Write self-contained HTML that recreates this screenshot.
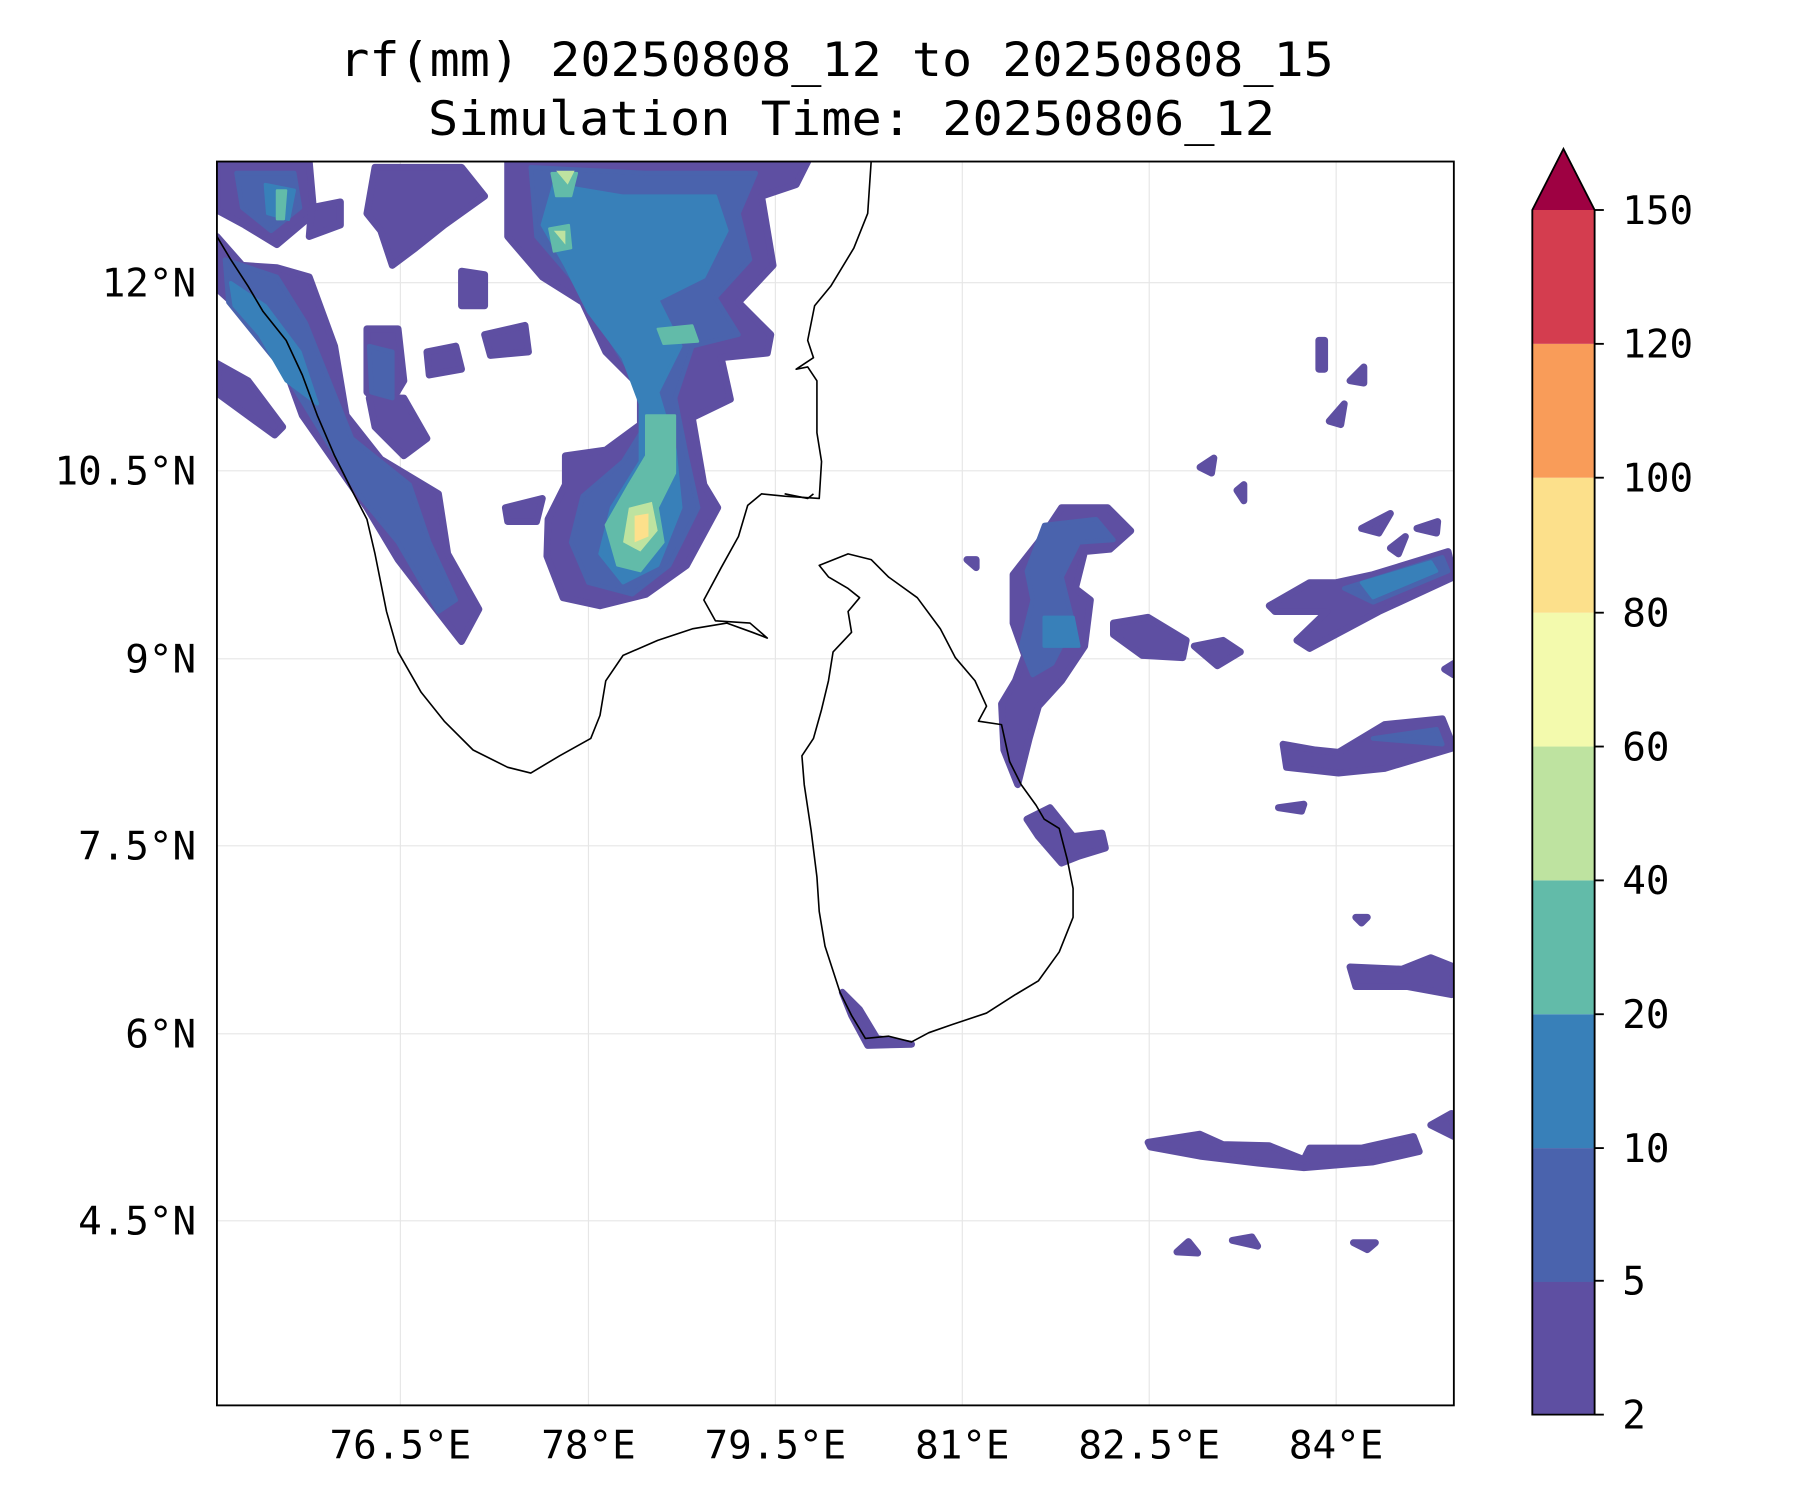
<!DOCTYPE html>
<html><head><meta charset="utf-8"><style>
html,body{margin:0;padding:0;background:#fff;}
svg{display:block;}
text{font-family:"DejaVu Sans Mono","Liberation Mono",monospace;fill:#000;}
</style></head><body>
<svg width="1800" height="1500" viewBox="0 0 1560 1300" xmlns="http://www.w3.org/2000/svg">
<text x="725" y="66" font-size="41" text-anchor="middle" textLength="862" lengthAdjust="spacingAndGlyphs">rf(mm) 20250808_12 to 20250808_15</text>
<text x="738" y="117" font-size="41" text-anchor="middle" textLength="734" lengthAdjust="spacingAndGlyphs">Simulation Time: 20250806_12</text>
<defs><clipPath id="ax"><rect x="188" y="140" width="1072" height="1078"/></clipPath></defs>
<g stroke="#e6e6e6" stroke-width="1">
<line x1="347" y1="140" x2="347" y2="1218"/><line x1="510" y1="140" x2="510" y2="1218"/><line x1="672" y1="140" x2="672" y2="1218"/><line x1="834" y1="140" x2="834" y2="1218"/><line x1="996" y1="140" x2="996" y2="1218"/><line x1="1158" y1="140" x2="1158" y2="1218"/>
<line x1="188" y1="245" x2="1260" y2="245"/><line x1="188" y1="408" x2="1260" y2="408"/><line x1="188" y1="571" x2="1260" y2="571"/><line x1="188" y1="733" x2="1260" y2="733"/><line x1="188" y1="896" x2="1260" y2="896"/><line x1="188" y1="1058" x2="1260" y2="1058"/>
</g>
<g clip-path="url(#ax)" stroke-linejoin="round">
<g fill="#5e4fa2" stroke="#5e4fa2" stroke-width="6">
<path d="M440,140 L700,140 L690,160 L660,170 L670,230 L640,262 L668,290 L665,306 L625,310 L633,346 L600,362 L610,420 L622,440 L595,490 L560,515 L520,525 L488,518 L474,482 L475,450 L490,420 L490,395 L525,390 L555,368 L555,335 L525,305 L505,262 L470,240 L440,205 Z"/>
<path d="M188,205 L210,230 L240,232 L268,240 L290,300 L300,360 L330,398 L380,428 L388,480 L415,528 L400,556 L372,520 L345,485 L318,440 L290,400 L262,360 L242,305 L210,270 L188,250 Z"/>
<path d="M188,315 L215,330 L245,370 L238,377 L190,342 Z"/>
<path d="M188,140 L268,140 L272,185 L240,212 L212,195 L188,182 Z"/>
<path d="M325,145 L400,145 L420,170 L385,195 L360,215 L340,230 L330,200 L318,185 Z"/>
<path d="M318,285 L345,285 L350,330 L335,355 L318,340 Z"/>
<path d="M320,345 L350,345 L370,380 L350,395 L325,370 Z"/>
<path d="M400,235 L420,238 L420,265 L400,265 Z"/>
<path d="M420,290 L455,282 L458,305 L425,308 Z"/>
<path d="M370,305 L395,300 L400,320 L372,325 Z"/>
<path d="M270,180 L295,175 L295,195 L268,205 Z"/>
<path d="M438,440 L470,432 L465,452 L440,452 Z"/>
<path d="M920,440 L960,440 L980,460 L962,476 L940,478 L932,510 L945,520 L940,560 L920,590 L900,612 L892,640 L882,680 L870,650 L868,610 L880,590 L888,568 L878,540 L878,498 L900,470 Z"/>
<path d="M965,540 L995,535 L1028,555 L1025,570 L990,568 L965,550 Z"/>
<path d="M1035,560 L1060,555 L1075,565 L1055,577 Z"/>
<path d="M890,710 L910,700 L930,725 L955,722 L958,735 L935,742 L920,748 L900,725 Z"/>
<path d="M730,860 L745,875 L760,900 L790,905 L752,906 L738,880 Z"/>
<path d="M1100,525 L1135,505 L1158,505 L1190,498 L1255,478 L1260,500 L1195,530 L1135,562 L1124,555 L1150,530 L1105,530 Z"/>
<path d="M1112,645 L1140,650 L1160,652 L1200,628 L1250,623 L1260,648 L1200,666 L1160,670 L1115,665 Z"/>
<path d="M1170,838 L1215,840 L1240,830 L1260,838 L1258,862 L1220,855 L1175,855 Z"/>
<path d="M995,990 L1040,983 L1060,992 L1100,993 L1130,1005 L1135,995 L1180,995 L1225,985 L1230,998 L1190,1007 L1130,1012 L1090,1008 L1040,1002 L997,994 Z"/>
<path d="M1240,975 L1258,965 L1260,985 Z"/>
<path d="M1020,1085 L1030,1076 L1038,1086 Z"/><path d="M1068,1075 L1085,1072 L1090,1080 Z"/><path d="M1173,1077 L1192,1077 L1185,1083 Z"/>
<path d="M1143,295 L1148,295 L1148,320 L1143,320 Z"/><path d="M1170,330 L1182,318 L1182,332 Z"/><path d="M1152,365 L1165,350 L1162,368 Z"/>
<path d="M1040,405 L1052,397 L1050,410 Z"/><path d="M1072,425 L1078,420 L1078,434 Z"/><path d="M1180,458 L1205,445 L1195,462 Z"/><path d="M1205,475 L1218,465 L1212,480 Z"/><path d="M1228,458 L1246,452 L1245,462 Z"/>
<path d="M1108,700 L1130,697 L1128,703 Z"/><path d="M1175,795 L1185,795 L1180,800 Z"/><path d="M1252,580 L1260,575 L1260,585 Z"/>
<path d="M838,485 L846,485 L846,492 Z"/>
</g>
<g fill="#4a63ad" stroke="#4a63ad" stroke-width="4">
<path d="M460,145 L560,150 L655,150 L640,185 L650,225 L620,258 L640,290 L600,300 L585,345 L595,395 L605,440 L580,490 L548,515 L510,505 L495,470 L505,430 L540,400 L565,360 L545,320 L520,280 L495,240 L465,205 Z"/>
<path d="M195,225 L240,240 L265,280 L285,330 L305,380 L355,420 L372,470 L395,520 L380,530 L345,470 L312,430 L282,380 L245,320 L198,262 Z"/>
<path d="M205,150 L255,150 L260,180 L235,200 L210,180 Z"/>
<path d="M320,300 L340,305 L340,345 L322,340 Z"/>
<path d="M905,455 L950,450 L965,468 L935,470 L920,500 L930,540 L912,575 L895,585 L885,560 L895,520 L890,495 Z"/>
<path d="M1165,510 L1250,483 L1255,495 L1190,522 Z"/>
<path d="M1190,640 L1245,632 L1250,645 Z"/>
</g>
<g fill="#3880b9" stroke="#3880b9" stroke-width="3">
<path d="M480,160 L540,170 L620,170 L630,200 L610,240 L570,260 L590,300 L570,340 L585,390 L590,440 L570,490 L540,505 L520,480 L530,440 L555,400 L555,350 L540,310 L510,270 L490,230 L470,195 Z"/>
<path d="M200,245 L230,265 L260,305 L275,350 L248,330 L225,290 L203,265 Z"/>
<path d="M230,160 L255,165 L250,190 L232,185 Z"/>
<path d="M905,535 L930,535 L935,560 L905,560 Z"/>
<path d="M1180,505 L1240,487 L1245,495 L1190,518 Z"/>
</g>
<g fill="#62bba9" stroke="#62bba9" stroke-width="2">
<path d="M560,360 L585,360 L585,410 L570,440 L575,470 L555,495 L535,490 L525,455 L545,420 L560,395 Z"/>
<path d="M478,150 L500,150 L495,170 L482,170 Z"/>
<path d="M476,198 L493,195 L495,215 L480,218 Z"/>
<path d="M570,285 L600,282 L605,296 L575,298 Z"/>
<path d="M240,165 L248,165 L246,190 L240,190 Z"/>
</g>
<g fill="#bee3a0"><path d="M545,440 L565,435 L570,460 L555,478 L540,470 Z"/><path d="M482,148 L498,148 L492,160 Z"/><path d="M480,200 L490,200 L490,212 Z"/></g>
<g fill="#fde08b"><path d="M550,447 L562,445 L562,465 L550,470 Z"/></g>
<g fill="none" stroke="#000" stroke-width="1.4">
<path d="M188,205 L200,225 L215,248 L228,270 L248,295 L262,325 L275,360 L290,395 L305,425 L318,450 L325,480 L330,505 L335,530 L345,565 L365,600 L385,625 L410,650 L440,665 L460,670 L485,655 L512,640 L520,620 L525,590 L540,568 L570,555 L600,545 L630,540 L652,548 L665,553 L650,540 L620,538 L610,520 L625,492 L640,465 L648,438 L660,428 L680,430 L710,432 L712,400 L708,375 L708,330 L700,318 L690,320 L705,310 L700,295 L706,265 L720,248 L740,215 L752,185 L755,140"/>
<path d="M710,490 L735,480 L755,485 L770,500 L795,518 L815,545 L828,570 L845,590 L855,612 L848,625 L868,628 L875,660 L885,680 L898,698 L905,710 L918,718 L925,745 L930,770 L930,795 L918,825 L900,850 L880,862 L855,878 L825,888 L805,895 L790,903 L770,898 L750,900 L738,880 L728,860 L715,820 L710,790 L708,760 L703,720 L697,680 L695,655 L705,640 L712,615 L718,590 L722,565 L738,548 L735,530 L745,518 L735,510 L718,500 Z"/>
<path d="M680,428 L700,432 L705,428"/>
</g>
</g>
<rect x="188" y="140" width="1072" height="1078" fill="none" stroke="#000" stroke-width="1.6"/>
<g font-size="34">
<text x="347" y="1264" text-anchor="middle">76.5°E</text><text x="510" y="1264" text-anchor="middle">78°E</text><text x="672" y="1264" text-anchor="middle">79.5°E</text><text x="834" y="1264" text-anchor="middle">81°E</text><text x="996" y="1264" text-anchor="middle">82.5°E</text><text x="1158" y="1264" text-anchor="middle">84°E</text>
<text x="170" y="257" text-anchor="end">12°N</text><text x="170" y="420" text-anchor="end">10.5°N</text><text x="170" y="583" text-anchor="end">9°N</text><text x="170" y="745" text-anchor="end">7.5°N</text><text x="170" y="908" text-anchor="end">6°N</text><text x="170" y="1070" text-anchor="end">4.5°N</text>
</g>
<g>
<rect x="1328" y="1110" width="54" height="116" fill="#5e4fa2"/>
<rect x="1328" y="995" width="54" height="116" fill="#4a63ad"/>
<rect x="1328" y="879" width="54" height="116" fill="#3880b9"/>
<rect x="1328" y="763" width="54" height="116" fill="#62bba9"/>
<rect x="1328" y="647" width="54" height="116" fill="#bee3a0"/>
<rect x="1328" y="531" width="54" height="116" fill="#f3faad"/>
<rect x="1328" y="414" width="54" height="117" fill="#fce08b"/>
<rect x="1328" y="298" width="54" height="116" fill="#f99c59"/>
<rect x="1328" y="182" width="54" height="116" fill="#d43d4f"/>
<path d="M1328,182 L1355,129 L1382,182 Z" fill="#9e0142"/>
<path d="M1328,1226 L1328,182 L1355,129 L1382,182 L1382,1226 Z" fill="none" stroke="#000" stroke-width="1.6"/>
<g stroke="#000" stroke-width="1.6">
<line x1="1382" y1="1226" x2="1390" y2="1226"/><line x1="1382" y1="1110" x2="1390" y2="1110"/><line x1="1382" y1="995" x2="1390" y2="995"/><line x1="1382" y1="879" x2="1390" y2="879"/><line x1="1382" y1="763" x2="1390" y2="763"/><line x1="1382" y1="647" x2="1390" y2="647"/><line x1="1382" y1="531" x2="1390" y2="531"/><line x1="1382" y1="414" x2="1390" y2="414"/><line x1="1382" y1="298" x2="1390" y2="298"/><line x1="1382" y1="182" x2="1390" y2="182"/>
</g>
<g font-size="34">
<text x="1406" y="1238">2</text><text x="1406" y="1122">5</text><text x="1406" y="1007">10</text><text x="1406" y="891">20</text><text x="1406" y="775">40</text><text x="1406" y="659">60</text><text x="1406" y="543">80</text><text x="1406" y="426">100</text><text x="1406" y="310">120</text><text x="1406" y="194">150</text>
</g>
</g>
</svg>
</body></html>
